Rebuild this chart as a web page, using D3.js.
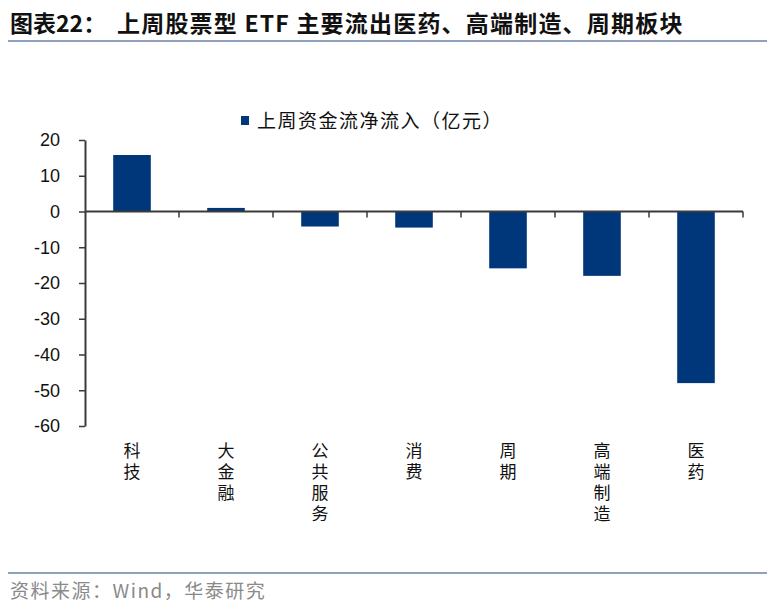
<!DOCTYPE html>
<html>
<head>
<meta charset="utf-8">
<script src="https://cdn.jsdelivr.net/npm/d3@7"></script>
<style>
  body { margin: 0; background: #fff; }
  svg { display: block; }
</style>
</head>
<body>
<div id="chart"></div>
<script>
// 上周股票型 ETF 资金流向（亿元）

// Data
const categories = ["科技", "大金融", "公共服务", "消费", "周期", "高端制造", "医药"];
const flows = [15.8, 1.0, -4.2, -4.5, -15.9, -18.0, -48.0];
const yTicks = [20, 10, 0, -10, -20, -30, -40, -50, -60];
const seriesName = "上周资金流净流入（亿元）";

// Colors
const barColor = "#00377a";
const axisColor = "#3a3a3a";
const ruleColor = "#8ea2bd";

const width = 776, height = 614,
      marginLeft = 85, marginRight = 33, plotTop = 140, plotBottom = 426;

const cjk = "'Noto Sans CJK SC', sans-serif";
const latin = "'Liberation Sans', Arial, sans-serif";

const svg = d3.select("#chart")
  .append("svg")
    .attr("width", width)
    .attr("height", height)
    .attr("viewBox", [0, 0, width, height]);

// Title
svg.append("text")
    .attr("x", 10)
    .attr("y", 32)
    .attr("font-family", cjk)
    .attr("font-weight", 700)
    .attr("font-size", "23px")
    .attr("fill", "#111")
    .text("图表22：");
svg.append("text")
    .attr("x", 117)
    .attr("y", 32)
    .attr("font-family", cjk)
    .attr("font-weight", 700)
    .attr("font-size", "23px")
    .attr("letter-spacing", "1.2px")
    .attr("fill", "#111")
    .text("上周股票型 ETF 主要流出医药、高端制造、周期板块");

svg.append("line")
    .attr("x1", 8).attr("x2", 767)
    .attr("y1", 41).attr("y2", 41)
    .attr("stroke", ruleColor)
    .attr("stroke-width", 2);

// Scales
const x = d3.scaleBand()
    .domain(categories)
    .range([marginLeft, width - marginRight])
    .paddingInner(0.6)
    .paddingOuter(0.3);

const xStep = d3.scaleBand().domain(categories).range([marginLeft, width - marginRight]);

const y = d3.scaleLinear()
    .domain([-60, 20])
    .range([plotBottom, plotTop]);

// Bars
svg.append("g")
  .selectAll("rect")
  .data(flows)
  .join("rect")
    .attr("x", (d, i) => x(categories[i]))
    .attr("width", x.bandwidth())
    .attr("y", d => y(Math.max(0, d)))
    .attr("height", d => Math.abs(y(d) - y(0)))
    .attr("fill", barColor);

// Y axis
svg.append("g")
    .attr("transform", `translate(${marginLeft},0)`)
    .call(d3.axisLeft(y).tickValues(yTicks).tickFormat(d => String(d))
        .tickSize(6).tickPadding(19).tickSizeOuter(0))
    .call(g => g.select(".domain").attr("stroke", axisColor).attr("stroke-width", 2))
    .call(g => g.selectAll(".tick line").attr("stroke", axisColor).attr("stroke-width", 1.5))
    .call(g => g.selectAll(".tick text")
        .attr("font-family", latin)
        .attr("font-size", "18px")
        .attr("fill", "#111"));

// X axis along zero, ticks between categories
svg.append("line")
    .attr("x1", marginLeft).attr("x2", width - marginRight)
    .attr("y1", y(0)).attr("y2", y(0))
    .attr("stroke", axisColor)
    .attr("stroke-width", 2);

svg.append("g")
  .selectAll("line")
  .data(categories)
  .join("line")
    .attr("x1", d => xStep(d) + xStep.bandwidth())
    .attr("x2", d => xStep(d) + xStep.bandwidth())
    .attr("y1", y(0))
    .attr("y2", y(0) + 6)
    .attr("stroke", axisColor)
    .attr("stroke-width", 1.5);

// Vertical category labels
svg.append("g")
    .attr("font-family", cjk)
    .attr("font-size", "17px")
    .attr("fill", "#111")
  .selectAll("text")
  .data(categories)
  .join("text")
    .attr("x", d => xStep(d) + xStep.bandwidth() / 2)
    .attr("y", 442)
    .style("writing-mode", "vertical-rl")
    .style("text-orientation", "upright")
    .attr("letter-spacing", "4px")
    .text(d => d);

// Legend
svg.append("rect")
    .attr("x", 241)
    .attr("y", 116)
    .attr("width", 8)
    .attr("height", 9)
    .attr("fill", barColor);
svg.append("text")
    .attr("x", 257)
    .attr("y", 128)
    .attr("font-family", cjk)
    .attr("font-size", "19px")
    .attr("letter-spacing", "1.5px")
    .attr("fill", "#111")
    .text(seriesName);

// Source
svg.append("line")
    .attr("x1", 8).attr("x2", 767)
    .attr("y1", 573).attr("y2", 573)
    .attr("stroke", ruleColor)
    .attr("stroke-width", 2);

svg.append("text")
    .attr("x", 10)
    .attr("y", 598)
    .attr("font-family", cjk)
    .attr("font-size", "19px")
    .attr("letter-spacing", "1.5px")
    .attr("fill", "#8a8a8a")
    .text("资料来源：Wind，华泰研究");
</script>
</body>
</html>
